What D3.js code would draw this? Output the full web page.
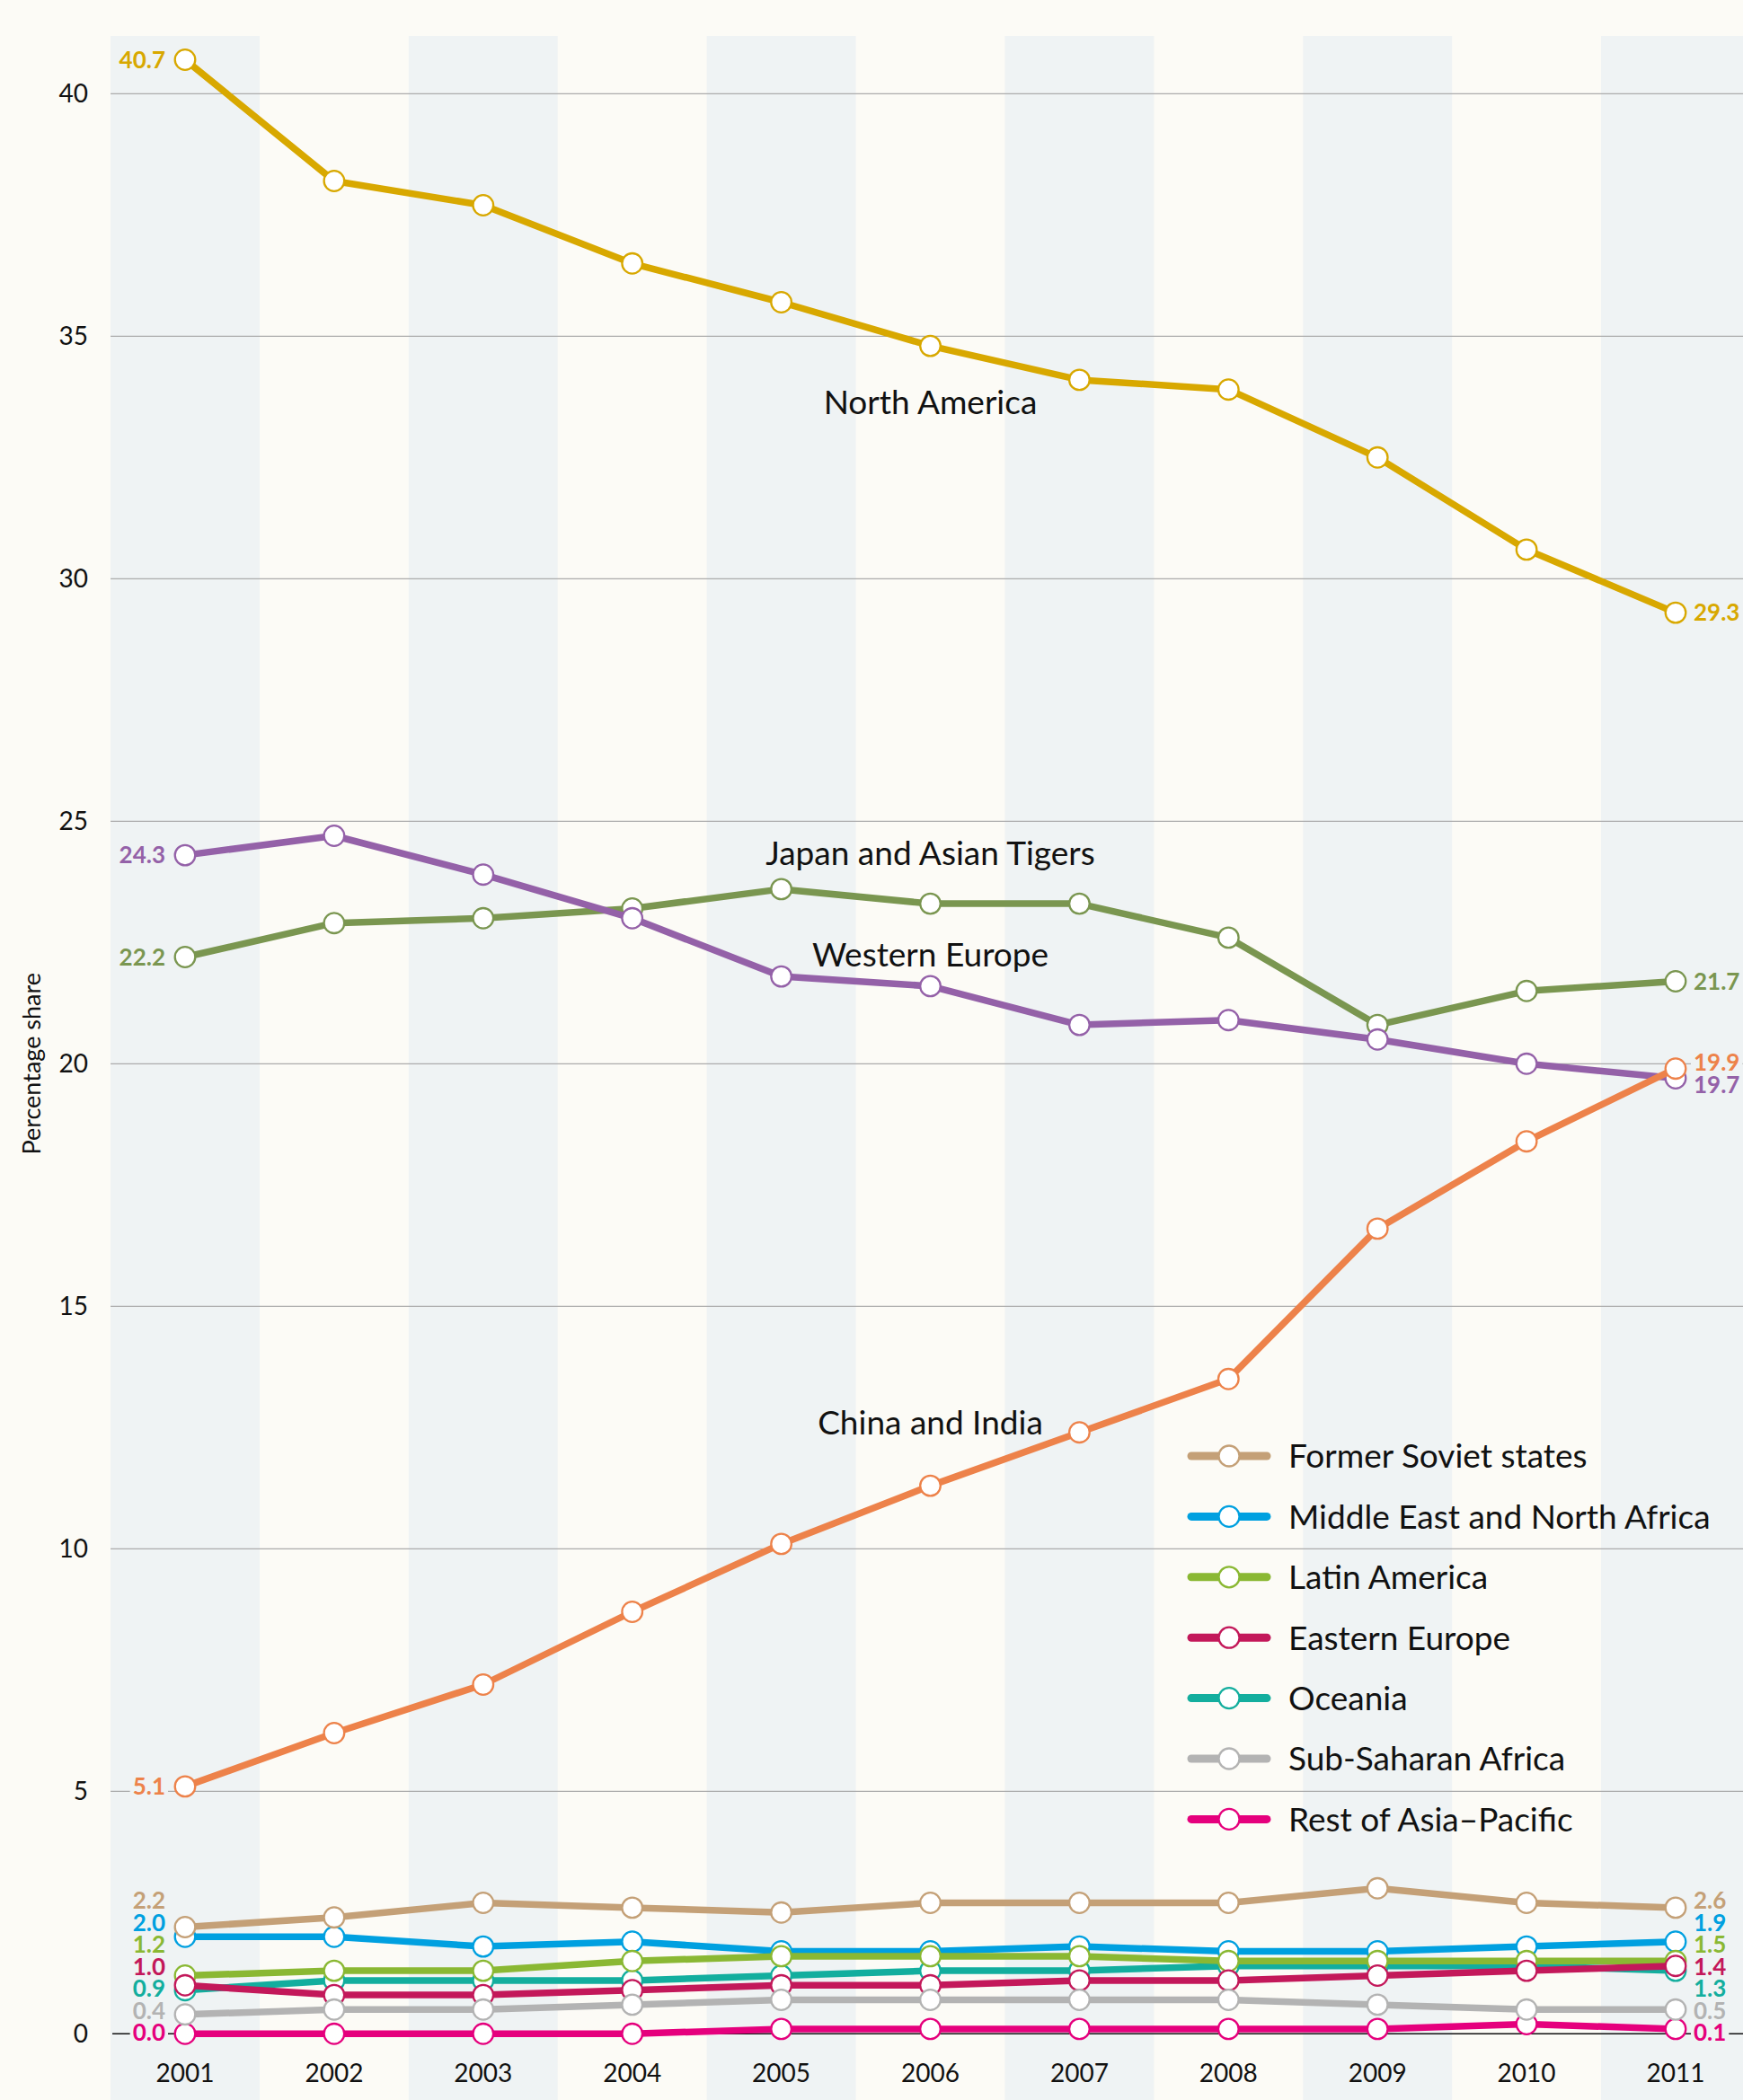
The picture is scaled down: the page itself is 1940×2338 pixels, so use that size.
<!DOCTYPE html>
<html>
<head>
<meta charset="utf-8">
<script src="https://cdn.jsdelivr.net/npm/d3@7/dist/d3.min.js"></script>
<style>
  html, body { margin: 0; padding: 0; background: #fcfbf6; }
  svg { display: block; }
  text { font-family: Lato, "Open Sans", sans-serif; }
</style>
</head>
<body>
<svg id="chart" width="1940" height="2338"></svg>
<script>
// ---------- DATA ----------
const years = [2001, 2002, 2003, 2004, 2005, 2006, 2007, 2008, 2009, 2010, 2011];
const yTicks = [0, 5, 10, 15, 20, 25, 30, 35, 40];

const northAmerica     = [40.7, 38.2, 37.7, 36.5, 35.7, 34.8, 34.1, 33.9, 32.5, 30.6, 29.3];
const japanAsianTigers = [22.2, 22.9, 23.0, 23.2, 23.6, 23.3, 23.3, 22.6, 20.8, 21.5, 21.7];
const westernEurope    = [24.3, 24.7, 23.9, 23.0, 21.8, 21.6, 20.8, 20.9, 20.5, 20.0, 19.7];
const chinaIndia       = [5.1, 6.2, 7.2, 8.7, 10.1, 11.3, 12.4, 13.5, 16.6, 18.4, 19.9];
const formerSoviet     = [2.2, 2.4, 2.7, 2.6, 2.5, 2.7, 2.7, 2.7, 3.0, 2.7, 2.6];
const middleEastNAfrica= [2.0, 2.0, 1.8, 1.9, 1.7, 1.7, 1.8, 1.7, 1.7, 1.8, 1.9];
const latinAmerica     = [1.2, 1.3, 1.3, 1.5, 1.6, 1.6, 1.6, 1.5, 1.5, 1.5, 1.5];
const easternEurope    = [1.0, 0.8, 0.8, 0.9, 1.0, 1.0, 1.1, 1.1, 1.2, 1.3, 1.4];
const oceania          = [0.9, 1.1, 1.1, 1.1, 1.2, 1.3, 1.3, 1.4, 1.4, 1.4, 1.3];
const subSaharanAfrica = [0.4, 0.5, 0.5, 0.6, 0.7, 0.7, 0.7, 0.7, 0.6, 0.5, 0.5];
const restAsiaPacific  = [0.0, 0.0, 0.0, 0.0, 0.1, 0.1, 0.1, 0.1, 0.1, 0.2, 0.1];

// series in drawing order
const series = [
  { name: "North America",               values: northAmerica,      color: "#d8a800" },
  { name: "Japan and Asian Tigers",      values: japanAsianTigers,  color: "#7a9650" },
  { name: "Western Europe",              values: westernEurope,     color: "#9461a8" },
  { name: "China and India",             values: chinaIndia,        color: "#ed824a" },
  { name: "Oceania",                     values: oceania,           color: "#13ae9e" },
  { name: "Middle East and North Africa",values: middleEastNAfrica, color: "#00a0e0" },
  { name: "Latin America",               values: latinAmerica,      color: "#8ab833" },
  { name: "Eastern Europe",              values: easternEurope,     color: "#c3185a" },
  { name: "Rest of Asia\u2013Pacific",   values: restAsiaPacific,   color: "#e5007d" },
  { name: "Sub-Saharan Africa",          values: subSaharanAfrica,  color: "#b3b3b3" },
  { name: "Former Soviet states",        values: formerSoviet,      color: "#c4a077" }
];
const legendNames = ["Former Soviet states", "Middle East and North Africa", "Latin America",
  "Eastern Europe", "Oceania", "Sub-Saharan Africa", "Rest of Asia\u2013Pacific"];

// direct labels: anchored at a year / value in data space
const annotations = [
  { text: "North America",          year: 2006, value: 33.4 },
  { text: "Japan and Asian Tigers", year: 2006, value: 24.1 },
  { text: "Western Europe",         year: 2006, value: 22.0 },
  { text: "China and India",        year: 2006, value: 12.35 }
];

// ---------- LAYOUT ----------
const W = 1940, H = 2338;
const bg = "#fcfbf6", band = "#eff3f4";
const svg = d3.select("#chart");
svg.append("rect").attr("width", W).attr("height", H).attr("fill", bg);

const x = d3.scaleLinear().domain([2001, 2011]).range([206, 1865]);
const y = d3.scaleLinear().domain([0, 40]).range([2264.3, 104.3]);

// alternating bands
svg.append("g").selectAll("rect").data(years.filter((d, i) => i % 2 === 0)).join("rect")
  .attr("x", d => x(d - 0.5)).attr("width", d => x(d + 0.5) - x(d - 0.5))
  .attr("y", 40).attr("height", H - 40).attr("fill", band);

// gridlines
const gridX0 = x(2000.5);
svg.append("g").selectAll("line").data(yTicks.filter(d => d > 0)).join("line")
  .attr("x1", gridX0).attr("x2", W)
  .attr("y1", d => y(d)).attr("y2", d => y(d))
  .attr("stroke", "#ababab").attr("stroke-width", 1.2);

// y tick labels
svg.append("g").selectAll("text").data(yTicks).join("text")
  .attr("x", 98).attr("y", d => y(d)).attr("dy", "0.36em")
  .attr("text-anchor", "end").attr("font-size", 28).attr("fill", "#111")
  .text(d => d);

// y title
svg.append("text")
  .attr("transform", `translate(45,${(y(0) + y(40)) / 2}) rotate(-90)`)
  .attr("text-anchor", "middle").attr("font-size", 27).attr("fill", "#111")
  .text("Percentage share");

// year labels
svg.append("g").selectAll("text").data(years).join("text")
  .attr("x", d => x(d)).attr("y", 2318)
  .attr("text-anchor", "middle").attr("font-size", 28).attr("fill", "#111")
  .text(d => d);

// zero baseline
svg.append("line").attr("x1", gridX0 + 2).attr("x2", W)
  .attr("y1", y(0)).attr("y2", y(0)).attr("stroke", "#111").attr("stroke-width", 1.5);

// series
const line = d3.line().x((d, i) => x(years[i])).y(d => y(d));
const gS = svg.append("g");
series.forEach(s => {
  const g = gS.append("g");
  g.append("path").attr("d", line(s.values)).attr("fill", "none")
    .attr("stroke", s.color).attr("stroke-width", 7.5)
    .attr("stroke-linejoin", "round").attr("stroke-linecap", "round");
  g.selectAll("circle").data(s.values).join("circle")
    .attr("cx", (d, i) => x(years[i])).attr("cy", d => y(d)).attr("r", 11.3)
    .attr("fill", "#fff").attr("stroke", s.color).attr("stroke-width", 2.3);
});

// annotations
svg.append("g").selectAll("text").data(annotations).join("text")
  .attr("x", d => x(d.year)).attr("y", d => y(d.value))
  .attr("text-anchor", "middle").attr("font-size", 37).attr("fill", "#111")
  .text(d => d.text);

// end value labels with collision avoidance
function layout(items, gap, maxY) {
  items.sort((a, b) => a.y0 - b.y0);
  let blocks = items.map(it => ({ items: [it] }));
  const place = b => {
    const n = b.items.length;
    const c = d3.mean(b.items, d => d.y0);
    let top = c - (n - 1) * gap / 2;
    if (top + (n - 1) * gap > maxY) top = maxY - (n - 1) * gap;
    b.top = top; b.bottom = top + (n - 1) * gap;
  };
  blocks.forEach(place);
  let merged = true;
  while (merged) {
    merged = false;
    for (let i = 1; i < blocks.length; i++) {
      if (blocks[i - 1].bottom + gap > blocks[i].top + 0.01) {
        const nb = { items: blocks[i - 1].items.concat(blocks[i].items) };
        place(nb);
        blocks.splice(i - 1, 2, nb);
        merged = true;
        break;
      }
    }
  }
  blocks.forEach(b => b.items.forEach((it, k) => it.y = b.top + k * gap));
  return items;
}

const fmt = d3.format(".1f");
const gL = svg.append("g");
[["start", 0, -22, "end"], ["end", years.length - 1, 20, "start"]].forEach(([side, idx, dx, anchor]) => {
  const items = series.map(s => ({ s, v: s.values[idx], y0: y(s.values[idx]) }));
  layout(items, 24.5, 2263);
  items.forEach(it => {
    const t = gL.append("text")
      .attr("x", x(years[idx]) + dx).attr("y", it.y).attr("dy", "0.36em")
      .attr("text-anchor", anchor).attr("font-size", 26).attr("font-weight", 700)
      .attr("fill", it.s.color).text(fmt(it.v));
    const bb = t.node().getBBox();
    gL.insert("rect", () => t.node())
      .attr("x", bb.x - 3).attr("y", bb.y + 2).attr("width", bb.width + 6).attr("height", bb.height - 4)
      .attr("fill", band);
  });
});

// legend
const legendX = 1322, legendY = 1621, legendStep = 67.4;
const gLeg = svg.append("g");
legendNames.forEach((nm, i) => {
  const s = series.find(d => d.name === nm);
  const ly = legendY + i * legendStep;
  gLeg.append("line").attr("x1", legendX + 4).attr("x2", legendX + 88)
    .attr("y1", ly).attr("y2", ly).attr("stroke", s.color)
    .attr("stroke-width", 9).attr("stroke-linecap", "round");
  gLeg.append("circle").attr("cx", legendX + 46).attr("cy", ly).attr("r", 11.5)
    .attr("fill", "#fff").attr("stroke", s.color).attr("stroke-width", 2.3);
  gLeg.append("text").attr("x", legendX + 112).attr("y", ly).attr("dy", "0.36em")
    .attr("font-size", 37).attr("fill", "#111").text(nm);
});
</script>
</body>
</html>
